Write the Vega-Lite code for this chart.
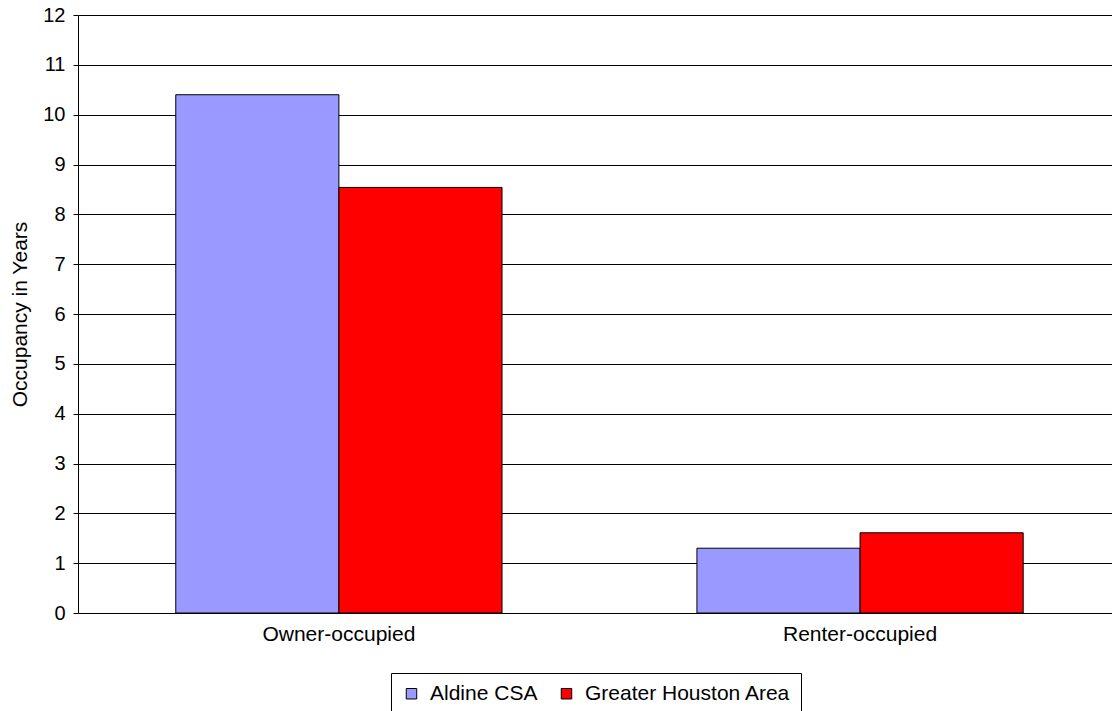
{
  "$schema": "https://vega.github.io/schema/vega-lite/v6.json",
  "autosize": {"type": "none"},
  "padding": {"left": 78, "top": 15, "right": 0, "bottom": 98},
  "width": 1034,
  "height": 598,
  "background": "white",
  "config": {
    "font": "Liberation Sans",
    "view": {"stroke": null}
  },
  "data": {
    "values": [
      {"tenure": "Owner-occupied", "area": "Aldine CSA", "years": 10.4},
      {"tenure": "Owner-occupied", "area": "Greater Houston Area", "years": 8.54},
      {"tenure": "Renter-occupied", "area": "Aldine CSA", "years": 1.3},
      {"tenure": "Renter-occupied", "area": "Greater Houston Area", "years": 1.61}
    ]
  },
  "mark": {"type": "bar", "stroke": "black", "strokeWidth": 1},
  "encoding": {
    "x": {
      "field": "tenure",
      "type": "nominal",
      "sort": ["Owner-occupied", "Renter-occupied"],
      "scale": {"paddingInner": 0.374, "paddingOuter": 0.179, "align": 0.524},
      "axis": {
        "title": null,
        "labelAngle": 0,
        "labelFontSize": 21,
        "labelColor": "black",
        "labelPadding": 10,
        "ticks": false,
        "domainColor": "black",
        "domainWidth": 1
      }
    },
    "xOffset": {
      "field": "area",
      "type": "nominal",
      "sort": ["Aldine CSA", "Greater Houston Area"],
      "scale": {"paddingInner": 0, "paddingOuter": 0}
    },
    "y": {
      "field": "years",
      "type": "quantitative",
      "scale": {"domain": [0, 12], "nice": false},
      "axis": {
        "title": "Occupancy in Years",
        "titleFontSize": 21,
        "titleFontWeight": "normal",
        "titleColor": "black",
        "titlePadding": 12,
        "values": [0, 1, 2, 3, 4, 5, 6, 7, 8, 9, 10, 11, 12],
        "labelFontSize": 20,
        "labelColor": "black",
        "labelPadding": 8,
        "tickSize": 5,
        "tickColor": "black",
        "domainColor": "black",
        "grid": true,
        "gridColor": "black",
        "gridOpacity": 1,
        "gridWidth": 1
      }
    },
    "color": {
      "field": "area",
      "type": "nominal",
      "sort": ["Aldine CSA", "Greater Houston Area"],
      "scale": {"domain": ["Aldine CSA", "Greater Houston Area"], "range": ["#9999FF", "#FF0000"]},
      "legend": {
        "title": null,
        "orient": "none",
        "legendX": 313,
        "legendY": 658,
        "direction": "horizontal",
        "columns": 2,
        "strokeColor": "black",
        "fillColor": "white",
        "padding": 10,
        "symbolType": "square",
        "symbolSize": 110,
        "symbolStrokeColor": "black",
        "symbolStrokeWidth": 1,
        "symbolOpacity": 1,
        "labelFontSize": 21,
        "labelLimit": 400,
        "labelColor": "black",
        "labelOffset": 8,
        "columnPadding": 18
      }
    }
  }
}
